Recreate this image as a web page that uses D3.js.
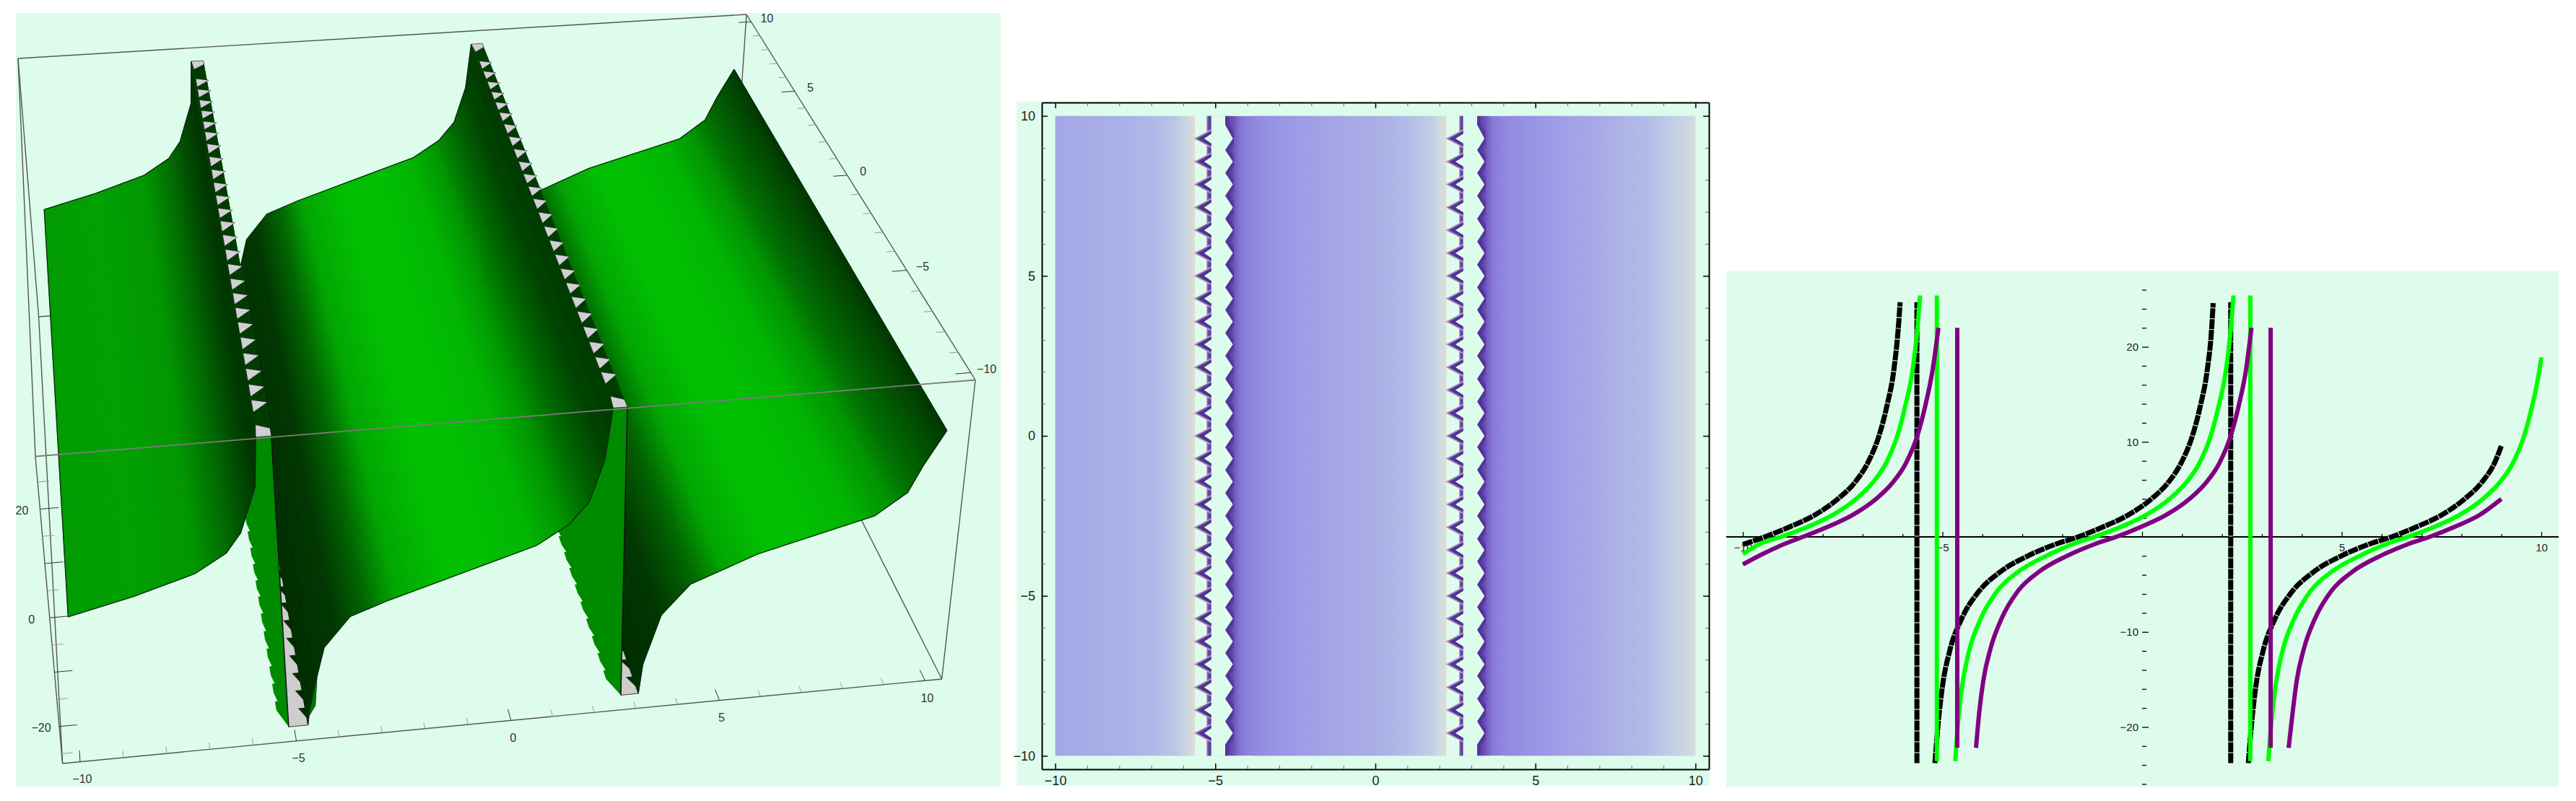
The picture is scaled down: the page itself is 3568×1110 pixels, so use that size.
<!DOCTYPE html>
<html>
<head>
<meta charset="utf-8">
<script src="https://cdnjs.cloudflare.com/ajax/libs/d3/7.8.5/d3.min.js"></script>
<style>
body { margin: 0; background: #fff; }
text { font-family: "Liberation Sans", sans-serif; }
</style>
</head>
<body>
<script>
// ---- values ----
var tickValues = [-10,-9,-8,-7,-6,-5,-4,-3,-2,-1,0,1,2,3,4,5,6,7,8,9,10];
var yTickValues3 = [-26,-24,-22,-20,-18,-16,-14,-12,-10,-8,-6,-4,-2,2,4,6,8,10,12,14,16,18,20,22,24,26];
var meshY = [9.29,8.57,7.86,7.14,6.43,5.71,5,4.29,3.57,2.86,2.14,1.43,0.71,0,-0.71,-1.43,-2.14,-2.86,-3.57,-4.29,-5,-5.71,-6.43,-7.14,-7.86,-8.57,-9.29];

// surface cross sections (x, z), three branches
var surfX1 = [-10,-8.5,-7.1,-6.38,-6.04,-5.68,-5.62];
var surfZ1 = [-1.7,1,4.2,7.5,11,19.2,28.5];
var surfX2 = [-4.69,-4.66,-4.51,-4.45,-4.26,-3.65,-2.76,0.61,1.35,1.8,2.13,2.28];
var surfZ2 = [-25.7,-24,-22.2,-17,-11.6,-6.3,-3.9,3.9,7.3,11.2,18.8,28.5];
var surfX3 = [3.12,3.2,3.59,4.24,5.8,8.5,9.23,9.55,10];
var surfZ3 = [-25.7,-20.3,-11.3,-6,-1.4,3.9,7.8,12.9,19];
// surface shading (green channel by x)
var shadeX = [-10,-8.5,-7.1,-6.4,-6,-5.6,-4.7,-4,-3.3,-2.6,-1.5,-0.5,0.5,1.2,1.8,2.28,3.1,3.6,4.3,5,6,7,8,8.8,9.4,10];
var shadeG = [155,160,150,110,80,50,45,55,100,165,190,190,180,150,100,55,45,55,100,165,190,190,180,150,100,55];
// discontinuity: ridge left, wall top, wall bottom, floor right
var ridgeLeft = [-5.62,2.28];
var wallTop = [-5.28,2.6];
var wallBottom = [-5.14,2.7];
var floorRight = [-4.69,3.12];

// density plot colours by x
var densX = [-10,-8,-7,-6.3,-5.9,-5.63,-5.62,-4.7,-4.45,-4.2,-3.8,-3,-1,0,1,1.7,2.0,2.22,2.23,3.17,3.41,3.65,4,5,7,8.5,9.2,10];
var densC = ["#a4a7e6","#aab0e7","#afb8e8","#b8c6e6","#cad6e2","#e2dcd2","#ddfcec","#5a3c9e","#6a50b8","#8678d6","#9088de","#9a96e6","#a6a8e6","#aaaee6","#b2bce8","#c0cde6","#cfdae2","#e0dcd4","#ddfcec","#5a3c9e","#6a50b8","#8678d6","#9088de","#9a96e6","#a8aae6","#b2bce8","#c0cde6","#d2dcde"];
var gapBandEnd = [-5.63,2.22];
var stripLeft = [-5.27,2.62];
var stripRight = [-5.13,2.74];
var zigValley = [-4.69,3.18];
var zigPeak = [-4.45,3.41];
var chevronTip = [-5.69,2.18];
var notchTip = [-5.35,2.5];

// line plot series, [x, value]
var blackBranches = [
  [[-10,-0.8],[-9.45,0],[-8.8,1.1],[-8.2,2.3],[-7.62,4],[-7.2,5.7],[-6.87,7.8],[-6.6,10.5],[-6.39,13.8],[-6.22,17.5],[-6.11,21.8],[-6.06,24.7]],
  [[-5.19,-23.8],[-5.1,-19.3],[-5,-15.7],[-4.82,-12],[-4.53,-8.7],[-4.12,-5.9],[-3.56,-3.7],[-2.86,-2],[-2.12,-0.7],[-1.6,0],[-0.95,1.1],[-0.35,2.3],[0.235,4],[0.65,5.7],[0.98,7.8],[1.25,10.5],[1.46,13.8],[1.63,17.5],[1.74,21.8],[1.78,24.6]],
  [[2.66,-23.8],[2.75,-19.3],[2.85,-15.7],[3.03,-12],[3.32,-8.7],[3.73,-5.9],[4.29,-3.7],[4.99,-2],[5.73,-0.7],[6.25,0],[6.9,1.1],[7.5,2.3],[8.08,4],[8.5,5.7],[8.83,7.8],[9,9.6]]
];
var greenBranches = [
  [[-10,-1.8],[-9.55,-0.7],[-9.05,0],[-8.35,1.1],[-7.75,2.3],[-7.16,4],[-6.75,5.7],[-6.41,7.8],[-6.14,10.5],[-5.93,13.8],[-5.75,17.5],[-5.63,21.8],[-5.56,25.4]],
  [[-4.68,-23.6],[-4.6,-19],[-4.5,-15.5],[-4.32,-11.8],[-4.04,-8.6],[-3.63,-5.7],[-3.08,-3.6],[-2.4,-2],[-1.7,-0.7],[-1.2,0],[-0.5,1.1],[0.1,2.3],[0.69,4],[1.1,5.7],[1.44,7.8],[1.71,10.5],[1.92,13.8],[2.1,17.5],[2.22,21.8],[2.29,25.4]],
  [[3.16,-23.6],[3.25,-19],[3.35,-15.5],[3.53,-11.8],[3.81,-8.6],[4.22,-5.7],[4.77,-3.6],[5.45,-2],[6.15,-0.7],[6.65,0],[7.35,1.1],[7.95,2.3],[8.54,4],[8.95,5.7],[9.29,7.8],[9.56,10.5],[9.77,13.8],[9.95,17.5],[10,18.9]]
];
var purpleBranches = [
  [[-10,-2.9],[-9.55,-1.9],[-9.1,-1],[-8.5,0],[-7.85,1.1],[-7.25,2.3],[-6.66,4],[-6.25,5.7],[-5.91,7.8],[-5.64,10.5],[-5.43,13.8],[-5.25,17.5],[-5.1,22]],
  [[-4.16,-22.2],[-4.08,-18.5],[-3.98,-15.2],[-3.8,-11.8],[-3.52,-8.6],[-3.11,-5.7],[-2.56,-3.6],[-1.88,-2],[-1.15,-0.7],[-0.65,0],[0,1.1],[0.6,2.3],[1.19,4],[1.6,5.7],[1.94,7.8],[2.21,10.5],[2.42,13.8],[2.6,17.5],[2.74,22]],
  [[3.67,-22.2],[3.77,-18.5],[3.87,-15.2],[4.05,-11.8],[4.33,-8.6],[4.74,-5.7],[5.29,-3.6],[5.97,-2],[6.7,-0.7],[7.2,0],[7.85,1.1],[8.45,2.3],[9,4]]
];
var blackJumpX = [-5.64,2.22];
var greenJumpX = [-5.14,2.71];
var purpleJumpX = [-4.63,3.22];
var blackJumpZ = [-23.8,24.7];
var greenJumpZ = [-23.6,25.4];
var purpleJumpZ = [-22.2,22];

// ---- page ----
var bg = "#ddfcec";
var svg = d3.select("body").append("svg").attr("width", 3568).attr("height", 1110);
var minusFmt = function (d) { return String(d).replace("-", "\u2212"); };

function panelBg(x0, y0, x1, y1) {
    svg.append("rect").attr("x", x0).attr("y", y0).attr("width", x1 - x0).attr("height", y1 - y0).attr("fill", bg);
}

// ---- panel 1: surface in a box ----
panelBg(22, 18, 1386, 1090);

// box corners on screen, x low/high, y back/front, z top/bottom
var corner = {
    A: [25, 81], B: [1034, 20], C: [1351, 526.5], D: [49, 632.5],
    G: [53.6, 439], H: [1011, 360], E: [86.6, 1058], F: [1304.5, 941]
};
var fx = d3.scaleLinear().domain([-10.4,-10,-5,0,5,10,10.4]).range([0,0.02,0.266,0.51,0.747,0.981,1]);
var fy = d3.scaleLinear().domain([10.4,10,5,0,-5,-10,-10.4]).range([0,0.02,0.21,0.44,0.7,0.98,1]);
var fz = d3.scaleLinear().domain([29.7,-26.8]).range([0,1]);
var zLow = -25.7, zHigh = 28.5;

function project(x, y, z) {
    var u = fx(x), v = fy(y), w = fz(z);
    function lerp(a, b, t) { return [a[0] + (b[0] - a[0]) * t, a[1] + (b[1] - a[1]) * t]; }
    var top = lerp(lerp(corner.A, corner.B, u), lerp(corner.D, corner.C, u), v);
    var bot = lerp(lerp(corner.G, corner.H, u), lerp(corner.E, corner.F, u), v);
    return lerp(top, bot, w);
}
var g1 = svg.append("g");
function poly(points, fill, stroke, sw) {
    return g1.append("polygon")
        .attr("points", points.map(function (p) { return project(p[0], p[1], p[2]).join(","); }).join(" "))
        .attr("fill", fill)
        .attr("stroke", stroke || "none")
        .attr("stroke-width", sw || 0)
        .attr("stroke-linejoin", "round");
}
function boxLine(a, b, color, w) {
    g1.append("line").attr("x1", corner[a][0]).attr("y1", corner[a][1]).attr("x2", corner[b][0]).attr("y2", corner[b][1])
        .attr("stroke", color || "#555").attr("stroke-width", w || 1.4);
}
[["A","G"],["G","E"],["G","H"],["H","B"],["H","F"],["A","B"],["B","C"],["A","D"],["C","F"],["D","E"],["E","F"]].forEach(function (e) {
    boxLine(e[0], e[1]);
});

var shade = d3.scaleLinear().domain(shadeX).range(shadeG);
function surface(xs, zs) {
    for (var i = 0; i < xs.length - 1; i++) {
        var n = Math.max(1, Math.ceil((xs[i + 1] - xs[i]) / 0.08));
        for (var j = 0; j < n; j++) {
            var a = j / n, b = (j + 1) / n;
            var xa = xs[i] + (xs[i + 1] - xs[i]) * a, xb = xs[i] + (xs[i + 1] - xs[i]) * b;
            var za = zs[i] + (zs[i + 1] - zs[i]) * a, zb = zs[i] + (zs[i + 1] - zs[i]) * b;
            var c = "rgb(0," + Math.round(shade((xa + xb) / 2)) + ",0)";
            poly([[xa,10,za],[xb,10,zb],[xb,-10,zb],[xa,-10,za]], c, c, 0.7);
        }
    }
    var line = d3.line();
    [10, -10].forEach(function (y) {
        g1.append("path")
            .attr("d", line(xs.map(function (x, i) { return project(x, y, zs[i]); })))
            .attr("fill", "none").attr("stroke", "#0a2a0a").attr("stroke-width", 1.3);
    });
}
function floorCap(i) {
    poly([[wallBottom[i],10,zLow],[floorRight[i],10,zLow],[floorRight[i],-10,zLow],[wallBottom[i],-10,zLow]], "#cdcdcd", "#111", 0.8);
    var dark = "rgb(0," + shadeG[i === 0 ? 6 : 16] + ",0)";
    meshY.forEach(function (y) {
        poly([[floorRight[i] + 0.03,y,zLow],[floorRight[i] - 0.16,y,zLow],[floorRight[i] + 0.03,y - 0.5,zLow]], dark);
    });
}
function wall(i) {
    var pts = [[wallTop[i],-10,zHigh],[wallBottom[i],-10,zLow]];
    meshY.slice().reverse().forEach(function (y) {
        pts.push([wallBottom[i] - 0.22,y,zLow]);
        pts.push([wallBottom[i] - 0.22,y + 0.36,zLow]);
        pts.push([wallBottom[i] - 0.16,y + 0.36,zLow]);
    });
    pts.push([wallBottom[i],10,zLow]);
    pts.push([wallTop[i],10,zHigh]);
    poly(pts, "#008a00");
    var a = project(wallTop[i], -10, zHigh), b = project(wallBottom[i], -10, zLow);
    g1.append("line").attr("x1", a[0]).attr("y1", a[1]).attr("x2", b[0]).attr("y2", b[1]).attr("stroke", "#101010").attr("stroke-width", 1.5);
}
function ridge(i) {
    var l = ridgeLeft[i], r = wallTop[i];
    poly([[l,10,zHigh],[r,10,zHigh],[r,-10,zHigh],[l,-10,zHigh]], "#003c00");
    var base = l + (r - l) * 0.12;
    meshY.slice(1, -1).forEach(function (y) {
        poly([[base,y + 0.26,zHigh],[base,y - 0.3,zHigh],[r + 0.05,y + 0.1,zHigh]], "#d0d0d4", "#111", 0.5);
    });
    poly([[l,10,zHigh],[r,10,zHigh],[r,9.75,zHigh],[base,9.45,zHigh]], "#d0d0d4", "#111", 0.5);
    poly([[base,-9.45,zHigh],[r,-9.65,zHigh],[r,-10,zHigh],[l,-10,zHigh]], "#d0d0d4", "#111", 0.5);
}

floorCap(1);
surface(surfX3, surfZ3);
wall(1);
ridge(1);
floorCap(0);
surface(surfX2, surfZ2);
// lighter sliver at the foot of the middle sheet
poly([[-4.66,-10,-24],[-4.51,-10,-22.2],[-4.45,-10,-17],[-4.52,-10,-19.5]], "#007800");
wall(0);
ridge(0);
surface(surfX1, surfZ1);
// side edges of the surface
[[-10,surfZ1[0]],[10,surfZ3[surfZ3.length - 1]]].forEach(function (e) {
    var a = project(e[0], 10, e[1]), b = project(e[0], -10, e[1]);
    g1.append("line").attr("x1", a[0]).attr("y1", a[1]).attr("x2", b[0]).attr("y2", b[1]).attr("stroke", "#0a2a0a").attr("stroke-width", 1.3);
});
boxLine("D", "C", "#7c7c7c", 1.8);

function tick3(p, q, major) {
    var a = project(p[0], p[1], p[2]), b = project(q[0], q[1], q[2]);
    g1.append("line").attr("x1", a[0]).attr("y1", a[1]).attr("x2", b[0]).attr("y2", b[1])
        .attr("stroke", major ? "#333" : "#999").attr("stroke-width", 1);
}
function label3(p, dx, dy, t) {
    var a = project(p[0], p[1], p[2]);
    g1.append("text").attr("x", a[0] + dx).attr("y", a[1] + dy).attr("text-anchor", "middle").attr("dominant-baseline", "central")
        .attr("font-size", 16).attr("fill", "#333").text(minusFmt(t));
}
tickValues.forEach(function (v) {
    var major = v % 5 === 0;
    tick3([v,-10.4,-26.8], [v,major ? -9.9 : -10.1,-26.8], major);
    tick3([10.4,v,29.7], [major ? 10.05 : 10.2,v,29.7], major);
    if (major) {
        label3([v,-10.4,-26.8], 3, 24, v);
        label3([10.4,v,29.7], 22, -5, v);
    }
});
[-25,-20,-15,-10,-5,0,5,10,15,20,25].forEach(function (v) {
    var major = v % 10 === 0;
    tick3([-10.4,-10.4,v], [major ? -10 : -10.15,-10.4,v], major);
    if (v === 20 || v === 0 || v === -20) label3([-10.4,-10.4,v], -25, 2, v);
});

// ---- panel 2: density plot ----
panelBg(1408, 141, 2368, 1089);
var x2 = d3.scaleLinear().domain([-10.42,10.42]).range([1443,2367]);
var y2 = d3.scaleLinear().domain([-10.42,10.42]).range([1066,142]);
var g2 = svg.append("g");
var defs = svg.append("defs");
var grad = defs.append("linearGradient").attr("id", "dens").attr("gradientUnits", "userSpaceOnUse")
    .attr("x1", x2(-10)).attr("x2", x2(10)).attr("y1", 0).attr("y2", 0);
densX.forEach(function (x, i) {
    grad.append("stop").attr("offset", (x + 10) / 20).attr("stop-color", densC[i]);
});
defs.append("filter").attr("id", "soft").append("feGaussianBlur").attr("stdDeviation", 2.5);
g2.append("rect").attr("x", x2(-10)).attr("y", y2(10)).attr("width", x2(10) - x2(-10)).attr("height", y2(-10) - y2(10)).attr("fill", "url(#dens)");

var pathXY = d3.line().x(function (d) { return x2(d[0]); }).y(function (d) { return y2(d[1]); });
[0, 1].forEach(function (i) {
    var zig = [[zigValley[i],10],[zigValley[i],9.72]];
    meshY.forEach(function (y) {
        zig.push([zigPeak[i],y]);
        zig.push([zigValley[i],y - 0.357]);
    });
    zig.push([zigValley[i],-10]);
    // dark rim following the zigzag
    g2.append("path").attr("d", pathXY(zig)).attr("fill", "none").attr("stroke", "#6e58c0").attr("stroke-width", 24).attr("stroke-opacity", 0.55).attr("filter", "url(#soft)");
    g2.append("path").attr("d", pathXY(zig)).attr("fill", "none").attr("stroke", "#4d2f92").attr("stroke-width", 10).attr("stroke-opacity", 0.9).attr("filter", "url(#soft)");
    var gap = [[gapBandEnd[i],10]].concat(zig).concat([[gapBandEnd[i],-10]]);
    g2.append("path").attr("d", pathXY(gap) + "Z").attr("fill", bg);
    // covers the stroke sticking out above and below
    g2.append("rect").attr("x", x2(gapBandEnd[i]) - 1).attr("y", y2(10.42) + 4).attr("width", x2(zigPeak[i]) - x2(gapBandEnd[i]) + 30).attr("height", y2(10) - y2(10.42) - 4).attr("fill", bg);
    g2.append("rect").attr("x", x2(gapBandEnd[i]) - 1).attr("y", y2(-10)).attr("width", x2(zigPeak[i]) - x2(gapBandEnd[i]) + 30).attr("height", y2(-10.42) - y2(-10) - 4).attr("fill", bg);

    // thin strip with chevrons
    var sg = defs.append("linearGradient").attr("id", "strip" + i);
    sg.append("stop").attr("offset", 0).attr("stop-color", "#a88fc0");
    sg.append("stop").attr("offset", 0.4).attr("stop-color", "#6c4ea6");
    sg.append("stop").attr("offset", 1).attr("stop-color", "#4a2c8e");
    g2.append("rect").attr("x", x2(stripLeft[i])).attr("y", y2(10)).attr("width", x2(stripRight[i]) - x2(stripLeft[i])).attr("height", y2(-10) - y2(10)).attr("fill", "url(#strip" + i + ")");
    var xr = stripRight[i], tip = chevronTip[i], nt = notchTip[i];
    meshY.forEach(function (y) {
        [[tip,0.29,"#d4c0c8"],[tip + 0.04,0.27,"#a48cbc"],[tip + 0.09,0.25,"#7656aa"],[tip + 0.15,0.23,"#4f3192"]].forEach(function (c) {
            g2.append("path").attr("d", pathXY([[c[0],y],[xr,y + c[1]],[xr,y - c[1]]]) + "Z").attr("fill", c[2]);
        });
        g2.append("path").attr("d", pathXY([[nt,y],[xr + 0.02,y + 0.16],[xr + 0.02,y - 0.16]]) + "Z").attr("fill", bg);
    });
});

function styleAxis(sel, font, size) {
    sel.selectAll("text").attr("font-family", font).attr("font-size", size).attr("fill", "#222");
    sel.selectAll(".domain").attr("stroke", "#000").attr("stroke-width", 2);
}
function frameAxis(axis, translate, labelled, major, minor, horizontal) {
    var a = svg.append("g").attr("transform", translate)
        .call(axis.tickValues(tickValues).tickSizeOuter(0).tickPadding(9)
            .tickFormat(function (d) { return labelled && d % 5 === 0 ? minusFmt(d) : ""; }));
    a.selectAll(".tick line").each(function (d) {
        var isMajor = d % 5 === 0, len = (isMajor ? major : minor) * (+d3.select(this).attr(horizontal ? "x2" : "y2") < 0 ? -1 : 1);
        d3.select(this).attr(horizontal ? "x2" : "y2", len)
            .attr("stroke", isMajor ? "#000" : "#666").attr("stroke-width", isMajor ? 1.5 : 1);
    });
    styleAxis(a, "Liberation Serif", 18);
    return a;
}
frameAxis(d3.axisBottom(x2).tickSize(-8), "translate(0,1066)", true, 8, 5, false);
frameAxis(d3.axisTop(x2).tickSize(-8), "translate(0,142)", false, 8, 5, false);
frameAxis(d3.axisLeft(y2).tickSize(-8), "translate(1443,0)", true, 8, 5, true);
frameAxis(d3.axisRight(y2).tickSize(-8), "translate(2367,0)", false, 8, 5, true);

// ---- panel 3: line plot ----
panelBg(2391, 376, 3544, 1090);
var x3 = d3.scaleLinear().domain([-10,10]).range([2414,3520]);
var y3 = d3.scaleLinear().domain([-26,26]).range([744 + 26 * 13.17, 744 - 26 * 13.17]);
var g3 = svg.append("g");

var ax = g3.append("g").attr("transform", "translate(0,744)")
    .call(d3.axisBottom(x3).tickValues(tickValues).tickSize(-4).tickSizeOuter(0).tickPadding(9)
        .tickFormat(function (d) { return d !== 0 && d % 5 === 0 ? minusFmt(d) : ""; }));
ax.selectAll(".tick line").attr("y2", function (d) { return d % 5 === 0 ? -7 : -4; }).attr("stroke", "#000").attr("stroke-width", 1.3);
styleAxis(ax, "Liberation Sans", 15);
ax.select(".domain").attr("d", "M2391,0H3544");

var ay = g3.append("g").attr("transform", "translate(" + x3(0) + ",0)")
    .call(d3.axisLeft(y3).tickValues(yTickValues3).tickSize(-6).tickSizeOuter(0).tickPadding(5)
        .tickFormat(function (d) { return d % 10 === 0 ? minusFmt(d) : ""; }));
ay.selectAll(".tick line").attr("x2", function (d) { return d % 10 === 0 ? 9 : 6; }).attr("stroke", "#000").attr("stroke-width", 1.3);
styleAxis(ay, "Liberation Sans", 15);
ay.select(".domain").remove();

var line3 = d3.line().x(function (d) { return x3(d[0]); }).y(function (d) { return y3(d[1]); }).curve(d3.curveMonotoneX);
function drawCurve(branches, jumpX, jumpZ, color, width, dash) {
    var paths = branches.map(function (b) { return line3(b); });
    jumpX.forEach(function (x) {
        paths.push("M" + x3(x) + "," + y3(jumpZ[0]) + "L" + x3(x) + "," + y3(jumpZ[1]));
    });
    paths.forEach(function (d) {
        if (dash) {
            g3.append("path").attr("d", d).attr("fill", "none").attr("stroke", "#fff").attr("stroke-width", width - 2);
        }
        g3.append("path").attr("d", d).attr("fill", "none").attr("stroke", color).attr("stroke-width", width)
            .attr("stroke-dasharray", dash || null);
    });
}
drawCurve(blackBranches, blackJumpX, blackJumpZ, "#000", 7, "14 1");
drawCurve(greenBranches, greenJumpX, greenJumpZ, "#00ff00", 6, null);
drawCurve(purpleBranches, purpleJumpX, purpleJumpZ, "#800080", 6, null);
</script>
</body>
</html>
